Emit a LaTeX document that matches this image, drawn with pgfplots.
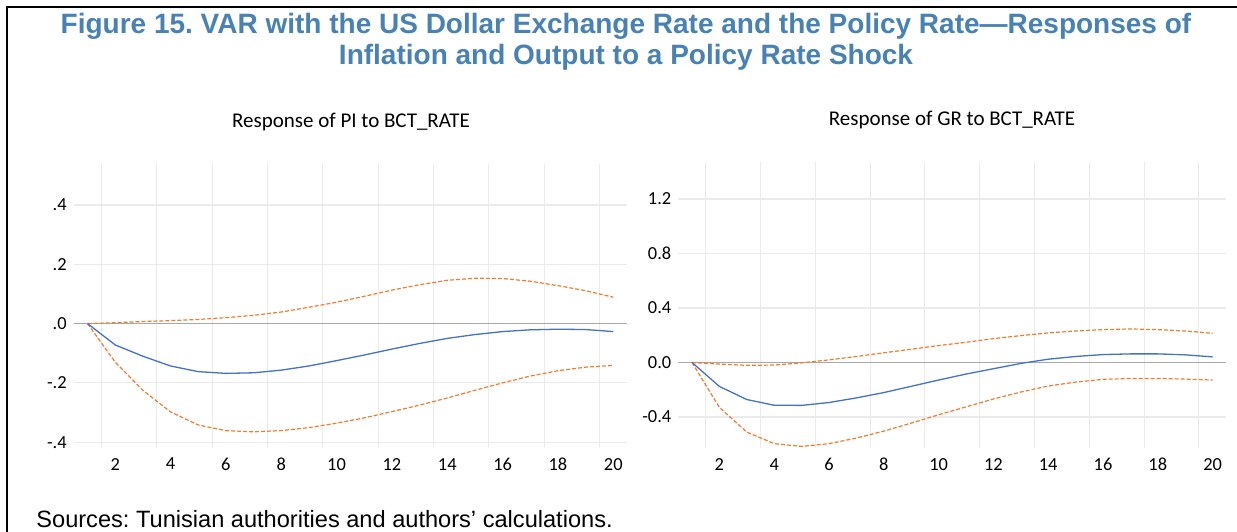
\documentclass[border=0pt]{standalone}
\usepackage{pgfplots}
\usepackage{pgfplotstable}
\pgfplotsset{compat=1.18}
\usepackage{fontspec}
\setmainfont{Carlito}
\newfontfamily\arial{Liberation Sans}

\definecolor{irfblue}{HTML}{4472C4}
\definecolor{bandorange}{HTML}{ED7D31}
\definecolor{titleblue}{RGB}{72,130,180}
\definecolor{gridgray}{HTML}{EBEBEB}
\definecolor{zerogray}{HTML}{A8A8A8}

% impulse responses: point estimate and +/- 2 s.e. bands
\pgfplotstableread{
t irf lo hi
1 0 0 0
2 -0.072 -0.130 0.003
3 -0.110 -0.225 0.007
4 -0.143 -0.298 0.010
5 -0.162 -0.342 0.014
6 -0.168 -0.361 0.020
7 -0.166 -0.365 0.028
8 -0.157 -0.361 0.039
9 -0.143 -0.351 0.055
10 -0.125 -0.336 0.072
11 -0.106 -0.318 0.092
12 -0.086 -0.297 0.113
13 -0.067 -0.275 0.131
14 -0.050 -0.251 0.146
15 -0.037 -0.225 0.153
16 -0.027 -0.200 0.152
17 -0.021 -0.177 0.143
18 -0.019 -0.159 0.128
19 -0.020 -0.147 0.111
20 -0.027 -0.141 0.089
}\pitable

\pgfplotstableread{
t irf lo hi
1 0 0 0
2 -0.176 -0.330 -0.012
3 -0.272 -0.511 -0.021
4 -0.314 -0.596 -0.019
5 -0.315 -0.616 -0.003
6 -0.294 -0.596 0.019
7 -0.260 -0.555 0.044
8 -0.221 -0.504 0.071
9 -0.175 -0.445 0.097
10 -0.129 -0.384 0.124
11 -0.085 -0.326 0.148
12 -0.046 -0.268 0.175
13 -0.007 -0.217 0.197
14 0.024 -0.173 0.217
15 0.044 -0.144 0.231
16 0.058 -0.124 0.241
17 0.063 -0.117 0.246
18 0.063 -0.117 0.241
19 0.056 -0.122 0.231
20 0.041 -0.129 0.214
}\grtable

\pgfplotsset{
  irf/.style={
    scale only axis,
    anchor=south west,
    axis lines*=left,
    axis line style={draw=none},
    tick style={draw=none},
    xmin=0.5, xmax=20.5,
    xtick={2,4,...,20},
    minor xtick={1.5,3.5,...,19.5},
    xminorgrids=true,
    ymajorgrids=true,
    major grid style={gridgray, line width=0.55pt},
    minor grid style={gridgray, line width=0.55pt},
    tick label style={font=\fontsize{9.2}{11}\selectfont},
    xticklabel style={yshift=-1.5pt},
    /pgf/number format/assume math mode=true,
  },
  est/.style={irfblue, line width=0.65pt},
  band/.style={bandorange, line width=0.6pt, dash pattern=on 2pt off 1pt},
}

\begin{document}
\frenchspacing
\begin{tikzpicture}
\path[use as bounding box] (0,0) rectangle (618.5pt,265.5pt);
\draw[line width=1.3pt] (3.5pt,-2pt) -- (3.5pt,262pt) -- (620pt,262pt);

\node[align=center, text=titleblue, font=\arial\bfseries\fontsize{14}{15.5}\selectfont]
  at (313pt,244.5pt) {Figure 15. VAR with the US Dollar Exchange Rate and the Policy Rate—Responses of\\Inflation and Output to a Policy Rate Shock};

\node[font=\fontsize{10.5}{12}\selectfont] at (175.5pt,204.5pt) {Response of PI to BCT\_RATE};
\node[font=\fontsize{10.5}{12}\selectfont] at (476pt,205.5pt) {Response of GR to BCT\_RATE};

% left panel: inflation
\begin{axis}[irf,
  at={(36.85pt,41.45pt)}, width=276.7pt, height=142.3pt,
  ymin=-0.42, ymax=0.54,
  ytick={-0.4,-0.2,0,0.2,0.4},
  yticklabels={-.4,-.2,.0,.2,.4},
]
\draw[zerogray, line width=0.9pt] (axis cs:0.5,0) -- (axis cs:20.5,0);
\addplot[band] table[x=t, y=hi] {\pitable};
\addplot[band] table[x=t, y=lo] {\pitable};
\addplot[est] table[x=t, y=irf] {\pitable};
\end{axis}

% right panel: output growth
\begin{axis}[irf,
  at={(339.15pt,41.35pt)}, width=274pt, height=143.05pt,
  ymin=-0.63, ymax=1.47,
  ytick={-0.4,0,0.4,0.8,1.2},
  yticklabels={-0.4,0.0,0.4,0.8,1.2},
]
\draw[zerogray, line width=0.9pt] (axis cs:0.5,0) -- (axis cs:20.5,0);
\addplot[band] table[x=t, y=hi] {\grtable};
\addplot[band] table[x=t, y=lo] {\grtable};
\addplot[est] table[x=t, y=irf] {\grtable};
\end{axis}

\node[anchor=base west, inner sep=0pt, font=\arial\fontsize{11.8}{14}\selectfont]
  at (18pt,2pt) {Sources: Tunisian authorities and authors’ calculations.};
\end{tikzpicture}
\end{document}
